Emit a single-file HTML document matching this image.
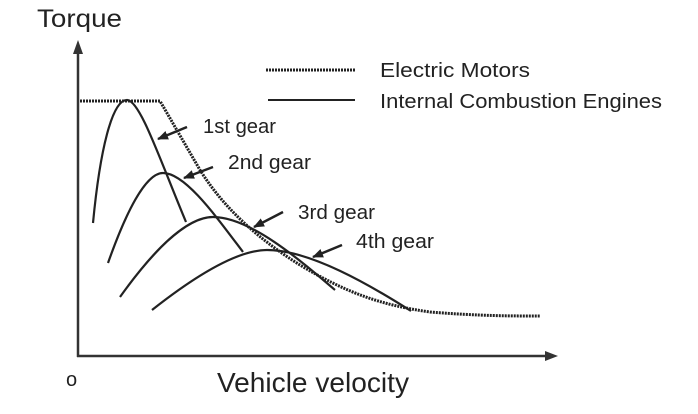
<!DOCTYPE html>
<html><head><style>
html,body{margin:0;padding:0;background:#fff;width:698px;height:414px;overflow:hidden}
svg text{font-family:"Liberation Sans",Arial,sans-serif;fill:#222}
</style></head><body>
<svg width="698" height="414" viewBox="0 0 698 414" xmlns="http://www.w3.org/2000/svg">
<defs>
<marker id="ah" markerWidth="11" markerHeight="9" refX="10" refY="4.5" orient="auto" markerUnits="userSpaceOnUse">
<path d="M0,0 L11,4.5 L0,9 Z" fill="#222"/>
</marker>
</defs>
<g stroke="#333" stroke-width="2.5" fill="none">
<line x1="78" y1="52" x2="78" y2="357"/>
<line x1="77" y1="356" x2="548" y2="356"/>
</g>
<path d="M78,40 L73,54 L83,54 Z" fill="#333"/>
<path d="M558,356 L545,351 L545,361 Z" fill="#333"/>
<text x="37" y="27" font-size="25" textLength="85" lengthAdjust="spacingAndGlyphs">Torque</text>
<text x="66" y="386" font-size="20">o</text>
<text x="217" y="392" font-size="28" textLength="192" lengthAdjust="spacingAndGlyphs">Vehicle velocity</text>
<!-- legend -->
<line x1="266" y1="70" x2="355" y2="70" stroke="#222" stroke-width="3" stroke-dasharray="2,1"/>
<line x1="268" y1="100" x2="355" y2="100" stroke="#222" stroke-width="2"/>
<text x="380" y="77" font-size="20" textLength="150" lengthAdjust="spacingAndGlyphs">Electric Motors</text>
<text x="380" y="108" font-size="20" textLength="282" lengthAdjust="spacingAndGlyphs">Internal Combustion Engines</text>
<!-- electric motor -->
<path d="M80,101 L160,101 L200,170 C225,210 260,240 300,265 C345,292 380,305 430,312 C480,316 510,316 540,316" stroke="#222" stroke-width="3" stroke-dasharray="2,1" fill="none"/>
<!-- gears -->
<g stroke="#222" stroke-width="2.2" fill="none">
<path d="M93,223 C100,150 112,100 127,100 C140,100 160,160 186,222"/>
<path d="M108,263 C125,215 145,173 163,173 C185,173 215,215 243,252"/>
<path d="M120,297 C150,255 185,217 213,217 C250,217 300,260 335,290"/>
<path d="M152,310 C190,280 235,250 267,250 C310,250 370,285 411,311"/>
</g>
<g stroke="#222" stroke-width="2.5" marker-end="url(#ah)">
<line x1="187" y1="127" x2="158" y2="139"/>
<line x1="213" y1="167" x2="184" y2="178"/>
<line x1="283" y1="212" x2="254" y2="227"/>
<line x1="342" y1="245" x2="313" y2="257"/>
</g>
<text x="203" y="133" font-size="20" textLength="73" lengthAdjust="spacingAndGlyphs">1st gear</text>
<text x="228" y="169" font-size="20" textLength="83" lengthAdjust="spacingAndGlyphs">2nd gear</text>
<text x="298" y="219" font-size="20" textLength="77" lengthAdjust="spacingAndGlyphs">3rd gear</text>
<text x="356" y="248" font-size="20" textLength="78" lengthAdjust="spacingAndGlyphs">4th gear</text>
</svg>
</body></html>
